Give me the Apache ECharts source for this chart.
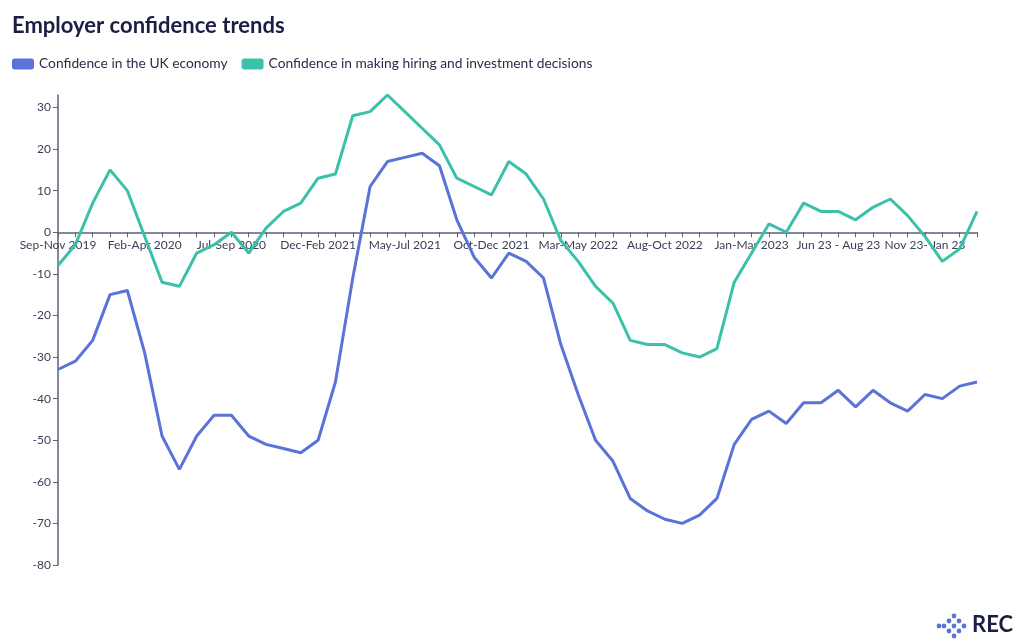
<!DOCTYPE html>
<html>
<head>
<meta charset="utf-8">
<style>
html,body{margin:0;padding:0;background:#fff;}
#chart{width:1024px;height:644px;}
</style>
<script src="https://cdn.jsdelivr.net/npm/echarts@6/dist/echarts.min.js"></script>
</head>
<body>
<div id="chart"></div>
<script>
var categories = [
  "Sep-Nov 2019","Oct-Dec 2019","Nov-Jan 2020","Dec-Feb 2020","Jan-Mar 2020",
  "Feb-Apr 2020","Mar-May 2020","Apr-Jun 2020","May-Jul 2020","Jun-Aug 2020",
  "Jul-Sep 2020","Aug-Oct 2020","Sep-Nov 2020","Oct-Dec 2020","Nov-Jan 2021",
  "Dec-Feb 2021","Jan-Mar 2021","Feb-Apr 2021","Mar-May 2021","Apr-Jun 2021",
  "May-Jul 2021","Jun-Aug 2021","Jul-Sep 2021","Aug-Oct 2021","Sep-Nov 2021",
  "Oct-Dec 2021","Nov-Jan 2022","Dec-Feb 2022","Jan-Mar 2022","Feb-Apr 2022",
  "Mar-May 2022","Apr-Jun 2022","May-Jul 2022","Jun-Aug 2022","Jul-Sep 2022",
  "Aug-Oct 2022","Sep-Nov 2022","Oct-Dec 2022","Nov-Jan 2023","Dec-Feb 2023",
  "Jan-Mar 2023","Feb-Apr 2023","Mar-May 2023","Apr-Jun 2023","May-Jul 2023",
  "Jun 23 - Aug 23","Jul 23 - Sep 23","Aug 23 - Oct 23","Sep 23 - Nov 23","Oct 23 - Dec 23",
  "Nov 23- Jan 23","Dec 23 - Feb 24","Jan 24 - Mar 24","Feb 24 - Apr 24"
];
var economyConfidence = [
  -33,-31,-26,-15,-14,-29,-49,-57,-49,-44,
  -44,-49,-51,-52,-53,-50,-36,-11,11,17,
  18,19,16,3,-6,-11,-5,-7,-11,-27,
  -39,-50,-55,-64,-67,-69,-70,-68,-64,-51,
  -45,-43,-46,-41,-41,-38,-42,-38,-41,-43,
  -39,-40,-37,-36
];
var hiringConfidence = [
  -8,-3,7,15,10,-1,-12,-13,-5,-3,
  0,-5,1,5,7,13,14,28,29,33,
  29,25,21,13,11,9,17,14,8,-2,
  -7,-13,-17,-26,-27,-27,-29,-30,-28,-12,
  -5,2,0,7,5,5,3,6,8,4,
  -1,-7,-4,5
];
var yTickValues = [-80,-70,-60,-50,-40,-30,-20,-10,0,10,20,30];
var seriesNames = ["Confidence in the UK economy","Confidence in making hiring and investment decisions"];
var yMin = -80, yMax = 33;

var font = "Lato, 'Noto Sans', sans-serif";
var chart = echarts.init(document.getElementById('chart'), null, {renderer:'canvas'});

var gridTop = 95, gridBottom = 79, chartH = 644;
var plotH = chartH - gridTop - gridBottom;
var zeroOffset = -plotH * (0 - yMin) / (yMax - yMin);

var logoDots = [];
var dotPos = [[0,-2],[-1,-1],[1,-1],[-2,0],[0,0],[2,0],[-1,1],[1,1],[0,2],[-3,0]];
dotPos.forEach(function(p){
  logoDots.push({type:'circle', shape:{cx:954+p[0]*5, cy:626+p[1]*5, r:2.4}, style:{fill:'#5b73d8'}});
});

chart.setOption({
  animation:false,
  title:{
    text:'Employer confidence trends',
    left:12, top:15, padding:0,
    textStyle:{fontFamily:font, fontWeight:'bold', fontSize:22, color:'#1b1d45'}
  },
  legend:{
    left:12, top:57, padding:0,
    itemWidth:22, itemHeight:11, itemGap:14,
    icon:'roundRect',
    textStyle:{fontFamily:font, fontSize:13.8, color:'#2c2c4a'},
    data:seriesNames
  },
  grid:{left:58, right:47, top:gridTop, bottom:gridBottom, containLabel:false},
  xAxis:{
    type:'category',
    data:categories,
    boundaryGap:false,
    position:'bottom',
    offset:zeroOffset,
    axisLine:{onZero:false, lineStyle:{color:'#5c5f78', width:1.5}},
    axisTick:{show:true, interval:0, length:5, inside:false, lineStyle:{color:'#5c5f78'}},
    axisLabel:{interval:4, hideOverlap:false, fontFamily:font, fontSize:12, color:'#3b3d55', margin:7}
  },
  yAxis:{
    type:'value',
    min:yMin, max:yMax, interval:10,
    splitLine:{show:false},
    axisLine:{show:true, lineStyle:{color:'#5c5f78', width:1.5}},
    axisTick:{show:true, length:5, customValues:yTickValues, lineStyle:{color:'#5c5f78'}},
    axisLabel:{fontFamily:font, fontSize:12, color:'#3b3d55', margin:7, customValues:yTickValues}
  },
  series:[
    {name:seriesNames[0], type:'line', data:economyConfidence, showSymbol:false, symbol:'none',
     lineStyle:{width:3, color:'#5b73d8'}, itemStyle:{color:'#5b73d8'}},
    {name:seriesNames[1], type:'line', data:hiringConfidence, showSymbol:false, symbol:'none',
     lineStyle:{width:3, color:'#3bc1aa'}, itemStyle:{color:'#3bc1aa'}}
  ],
  graphic:logoDots.concat([
    {type:'text', left:972, top:614, style:{text:'REC', fontFamily:font, fontWeight:'bold', fontSize:22, fill:'#1b1d45'}}
  ])
});
</script>
</body>
</html>
